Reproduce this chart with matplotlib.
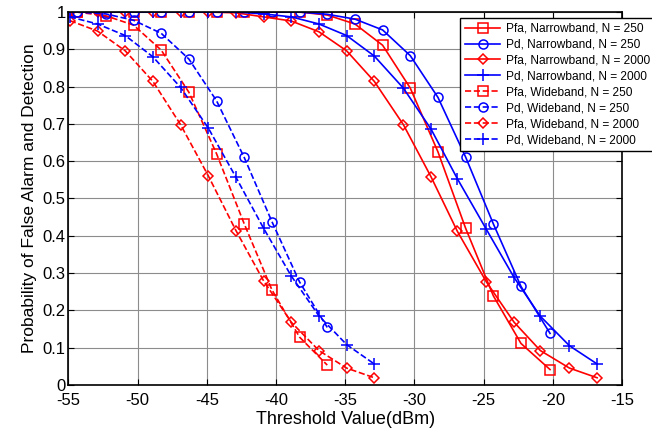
import matplotlib
matplotlib.use("Agg")
import matplotlib.pyplot as plt

plt.rcParams["font.family"] = ["Liberation Sans", "DejaVu Sans"]
plt.rcParams["axes.unicode_minus"] = False

# threshold grids (dBm)
x_n250 = [-54.4, -52.3, -50.3, -48.3, -46.3, -44.3, -42.3, -40.3, -38.3,
          -36.3, -34.3, -32.3, -30.3, -28.3, -26.3, -24.3, -22.3, -20.2]
x_n2000 = [-54.9, -52.9, -50.9, -48.9, -46.9, -44.9, -42.9, -40.9, -38.9, -36.9,
           -34.9, -32.9, -30.8, -28.8, -26.9, -24.8, -22.8, -20.9, -18.8, -16.8]
x_w250 = [-54.4, -52.3, -50.3, -48.3, -46.3, -44.3, -42.3, -40.3, -38.3, -36.3]
x_w2000 = [-54.9, -52.9, -50.9, -48.9, -46.9, -44.9, -42.9, -40.9, -38.9, -36.9,
           -34.9, -32.9]

# narrowband
pfa_nb_250 = [1.0, 1.0, 1.0, 1.0, 1.0, 1.0, 1.0, 1.0, 1.0,
              0.992, 0.968, 0.911, 0.796, 0.625, 0.420, 0.239, 0.111, 0.041]
pd_nb_250 = [1.0, 1.0, 1.0, 1.0, 1.0, 1.0, 1.0, 1.0, 1.0,
             0.994, 0.981, 0.952, 0.883, 0.771, 0.611, 0.432, 0.264, 0.138]
pfa_nb_2000 = [1.0, 1.0, 1.0, 1.0, 1.0, 1.0, 0.998, 0.987, 0.976, 0.947,
               0.896, 0.814, 0.698, 0.558, 0.412, 0.276, 0.168, 0.092, 0.045, 0.019]
pd_nb_2000 = [1.0, 1.0, 1.0, 1.0, 1.0, 1.0, 1.0, 0.995, 0.987, 0.968,
              0.937, 0.882, 0.796, 0.686, 0.553, 0.417, 0.288, 0.184, 0.105, 0.056]

# wideband
pfa_wb_250 = [1.0, 0.990, 0.965, 0.898, 0.785, 0.620, 0.432, 0.255, 0.128, 0.053]
pd_wb_250 = [1.0, 0.995, 0.978, 0.943, 0.874, 0.762, 0.610, 0.438, 0.276, 0.154]
pfa_wb_2000 = [0.977, 0.949, 0.896, 0.814, 0.698, 0.561, 0.414, 0.279, 0.168,
               0.092, 0.045, 0.019]
pd_wb_2000 = [0.987, 0.968, 0.937, 0.880, 0.798, 0.689, 0.557, 0.420, 0.292,
              0.185, 0.108, 0.056]

series = [
    (x_n250, pfa_nb_250, "r", "-", "s", "Pfa, Narrowband, N = 250"),
    (x_n250, pd_nb_250, "b", "-", "o", "Pd, Narrowband, N = 250"),
    (x_n2000, pfa_nb_2000, "r", "-", "D", "Pfa, Narrowband, N = 2000"),
    (x_n2000, pd_nb_2000, "b", "-", "+", "Pd, Narrowband, N = 2000"),
    (x_w250, pfa_wb_250, "r", "--", "s", "Pfa, Wideband, N = 250"),
    (x_w250, pd_wb_250, "b", "--", "o", "Pd, Wideband, N = 250"),
    (x_w2000, pfa_wb_2000, "r", "--", "D", "Pfa, Wideband, N = 2000"),
    (x_w2000, pd_wb_2000, "b", "--", "+", "Pd, Wideband, N = 2000"),
]

fig = plt.figure(figsize=(6.52, 4.3), dpi=100)
ax = fig.add_axes([0.105, 0.105, 0.849, 0.867])

for x, y, c, ls, m, lab in series:
    ms = {"s": 6.5, "o": 6.5, "D": 5, "+": 8}[m]
    ax.plot(x, y, color=c, linestyle=ls, marker=m, markersize=ms,
            markerfacecolor="none", markeredgecolor=c, markeredgewidth=1.1,
            linewidth=1.2, label=lab)

ax.set_xlim(-55, -15)
ax.set_ylim(0, 1)
ax.set_xticks(range(-55, -14, 5))
ax.set_yticks([0, 0.1, 0.2, 0.3, 0.4, 0.5, 0.6, 0.7, 0.8, 0.9, 1])
ax.set_yticklabels(["0", "0.1", "0.2", "0.3", "0.4", "0.5", "0.6", "0.7", "0.8", "0.9", "1"])
ax.grid(True, color="#8c8c8c", linewidth=0.8)
ax.tick_params(direction="in", top=True, right=True, labelsize=12, length=4)
ax.tick_params(axis="x", pad=6)
ax.tick_params(axis="y", pad=2)
for s in ax.spines.values():
    s.set_linewidth(1.2)

ax.set_xlabel("Threshold Value(dBm)", fontsize=13, labelpad=2)
ax.set_ylabel("Probability of False Alarm and Detection", fontsize=12.5, labelpad=4)

leg = ax.legend(loc="upper left", bbox_to_anchor=(0.707, 0.984), borderaxespad=0,
                fontsize=8.6, numpoints=1, handlelength=3.0, fancybox=False,
                edgecolor="black", framealpha=1, labelspacing=0.33,
                borderpad=0.4, handletextpad=0.5)
leg.get_frame().set_linewidth(1.0)

fig.savefig("out.png", dpi=100)
